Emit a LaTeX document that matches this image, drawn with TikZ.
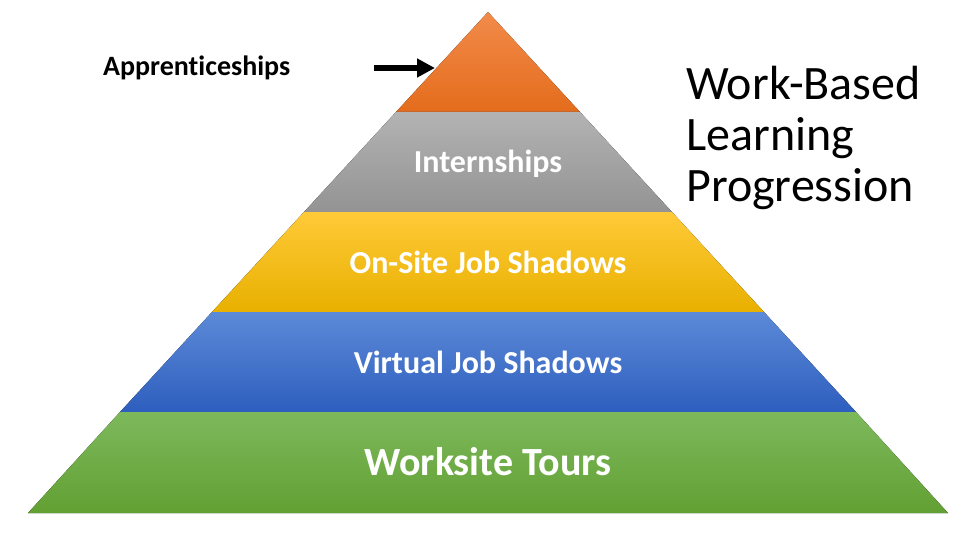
\documentclass[tikz,border=0pt]{standalone}
\usepackage{fontspec}
\setmainfont[Ligatures={NoCommon}]{Carlito}
\usepackage{tikz}
\usetikzlibrary{arrows.meta}

\definecolor{orangetop}{HTML}{F28B4A}
\definecolor{orangebot}{HTML}{E46C1C}
\definecolor{graytop}{HTML}{B3B3B3}
\definecolor{graybot}{HTML}{939393}
\definecolor{yellowtop}{HTML}{FFCA38}
\definecolor{yellowbot}{HTML}{E8B000}
\definecolor{bluetop}{HTML}{5C8AD8}
\definecolor{bluebot}{HTML}{2E5EBE}
\definecolor{greentop}{HTML}{7DB95C}
\definecolor{greenbot}{HTML}{62A033}

\begin{document}
\begin{tikzpicture}[x=1pt,y=-1pt,
	band/.style 2 args={top color=#1, bottom color=#2, draw=none},
	tier/.style={text=white, font=\bfseries\fontsize{32}{36}\selectfont, anchor=base, inner sep=0pt},
	title/.style={align=left, anchor=north west, inner sep=0pt, font=\fontsize{48}{51}\selectfont}]
		\useasboundingbox (0,0) rectangle (960,540);
		% pyramid bands, apex at (488,12)
		\fill[band={orangetop}{orangebot}] (488,12) -- (580,112) -- (396,112) -- cycle;
		\fill[band={graytop}{graybot}] (396,112) -- (580,112) -- (672,212) -- (304,212) -- cycle;
		\fill[band={yellowtop}{yellowbot}] (304,212) -- (672,212) -- (764,312) -- (212,312) -- cycle;
		\fill[band={bluetop}{bluebot}] (212,312) -- (764,312) -- (856,412) -- (120,412) -- cycle;
		\fill[band={greentop}{greenbot}] (120,412) -- (856,412) -- (948,513) -- (28,513) -- cycle;
		% labels
		\node[tier] (intern) at (488,173) {Internships};
		\node[tier] (onsite) at (488,273) {On-Site Job Shadows};
		\node[tier] (virtual) at (488,373) {Virtual Job Shadows};
		\node[tier, font=\bfseries\fontsize{40}{44}\selectfont] (tours) at (488,475) {Worksite Tours};
		\node[anchor=base west, inner sep=0pt, font=\bfseries\fontsize{28}{32}\selectfont] (appr) at (103,76) {Apprenticeships};
		\node[title] (wbl) at (686,66) {Work-Based\\Learning\\Progression};
		% arrow to the top
		\coordinate (arrfrom) at (374,68);
		\coordinate (arrto) at (435,68);
		\draw[-{Triangle[length=18pt,width=18pt]}, line width=6pt] (arrfrom) -- (arrto);
	\end{tikzpicture}
\end{document}
